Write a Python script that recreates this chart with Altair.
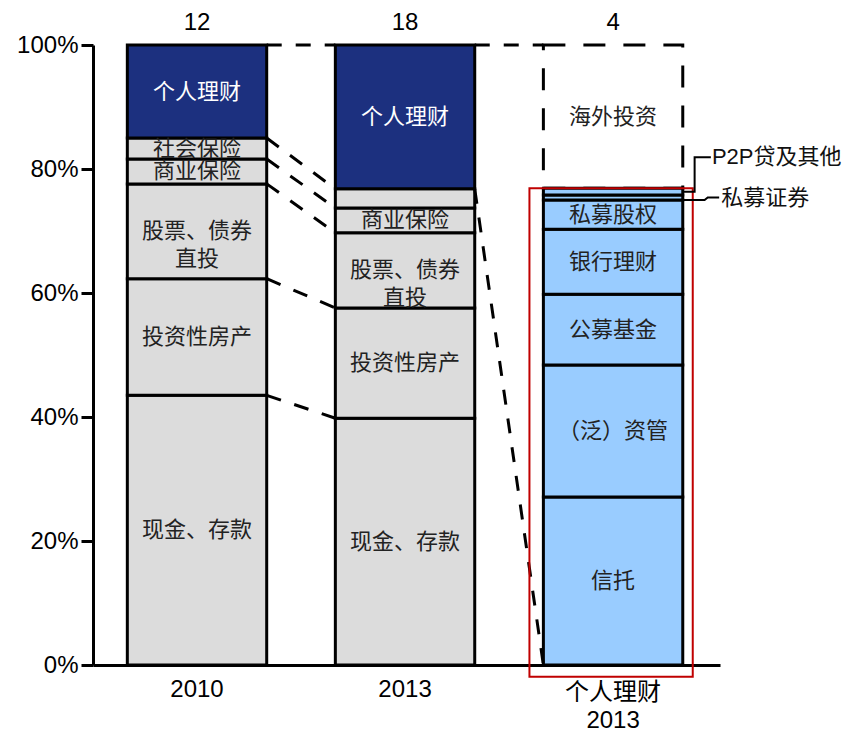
import altair as alt
import pandas as pd

# ---------------- data ----------------
bar_names = ["2010", "2013", "个人理财\n2013"]
counts = [12, 18, 4]

hh_cats = ["现金、存款", "投资性房产", "股票、债券\n直投", "商业保险", "社会保险", "个人理财"]
hh_2010 = [43.5, 18.8, 15.3, 4.0, 3.4, 15.0]
hh_2013 = [39.8, 17.8, 12.1, 4.0, 3.1, 23.2]
hh_2013_shown = [True, True, True, True, False, True]

wm_cats = ["信托", "（泛）资管", "公募基金", "银行理财", "私募股权", "私募证券", "P2P贷及其他", "海外投资"]
wm_2013 = [27.1, 21.3, 11.4, 10.5, 4.7, 0.8, 1.1, 23.1]
wm_inside = [True, True, True, True, True, False, False, True]

# ---------------- styles ----------------
NAVY = "#1C307F"
GRAY = "#DCDCDC"
LBLUE = "#99CCFF"
RED = "#C00000"
CJK = "Noto Sans CJK SC"
LAT = "Liberation Sans"
HW = 0.335  # half bar width in x units

# ---------------- build tables ----------------
seg_rows, txt_rows = [], []


def add_bar(g, cats, vals, shown, colors):
    cum = 0.0
    tops = []
    for c, v, s, col in zip(cats, vals, shown, colors):
        y0, y1 = cum, cum + v
        cum = y1
        tops.append(y1)
        seg_rows.append(dict(x=g - HW, x2=g + HW, y=y0, y2=y1, fill=col, cat=c))
        if s:
            txt_rows.append(dict(x=g, y=(y0 + y1) / 2, label=c,
                                 color="white" if col == NAVY else "#222222"))
    return tops


hh_colors = [GRAY] * 5 + [NAVY]
tops10 = add_bar(0, hh_cats, hh_2010, [True] * 6, hh_colors)
tops13 = add_bar(1, hh_cats, hh_2013, hh_2013_shown, hh_colors)

# wealth management bar (without the overseas box)
cum = 0.0
wm_tops = []
wm_mids = []
for c, v, s in zip(wm_cats, wm_2013, wm_inside):
    y0, y1 = cum, cum + v
    cum = y1
    wm_tops.append(y1)
    wm_mids.append((y0 + y1) / 2)
    if c == "海外投资":
        box = pd.DataFrame([dict(x=2 - HW, x2=2 + HW, y=y0, y2=y1)])
    else:
        seg_rows.append(dict(x=2 - HW, x2=2 + HW, y=y0, y2=y1, fill=LBLUE, cat=c))
    if s:
        txt_rows.append(dict(x=2, y=(y0 + y1) / 2, label=c, color="#222222"))

segs = pd.DataFrame(seg_rows)
txts = pd.DataFrame(txt_rows)

# dashed connectors
con_rows = []
for a, b in zip(tops10, tops13):
    con_rows.append(dict(x=HW, x2=1 - HW, y=a, y2=b))
con_rows.append(dict(x=1 + HW, x2=2 - HW, y=100, y2=100))
con_rows.append(dict(x=1 + HW, x2=2 - HW, y=tops13[4], y2=0))
cons = pd.DataFrame(con_rows)

# top counts
top_df = pd.DataFrame(dict(x=[0, 1, 2], y=[103.6] * 3, label=[str(c) for c in counts]))

# x labels below axis
xl_df = pd.DataFrame(dict(x=[0, 1, 2, 2], y=[-4.0, -4.0, -4.5, -9.0],
                          label=["2010", "2013", "个人理财", "2013"]))

# red highlight around the wealth-management bar
red_df = pd.DataFrame([dict(x=2 - HW - 0.067, x2=2 + HW + 0.048, y=-1.9, y2=wm_tops[6])])

# leader lines for small segments
p2p_mid = wm_mids[6]
pse_mid = wm_mids[5]
lead_df = pd.DataFrame([
    dict(g="p2p", o=0, x=2 + HW, y=p2p_mid),
    dict(g="p2p", o=1, x=2.392, y=p2p_mid),
    dict(g="p2p", o=2, x=2.392, y=81.9),
    dict(g="p2p", o=3, x=2.47, y=81.9),
    dict(g="pse", o=0, x=2 + HW, y=pse_mid - 0.4),
    dict(g="pse", o=1, x=2.44, y=pse_mid - 0.4),
    dict(g="pse", o=2, x=2.455, y=pse_mid),
    dict(g="pse", o=3, x=2.51, y=pse_mid),
])
lead_txt = pd.DataFrame(dict(x=[2.475, 2.52], y=[81.9, pse_mid],
                             label=[wm_cats[6], wm_cats[5]]))

# ---------------- encodings ----------------
XS = alt.Scale(domain=[-0.5, 2.514], nice=False, zero=False)
YS = alt.Scale(domain=[0, 100], nice=False, zero=False)
XAX = alt.Axis(labels=False, ticks=False, grid=False, title=None,
               domainColor="black", domainWidth=3)
YAX = alt.Axis(values=[0, 20, 40, 60, 80, 100], labelExpr="datum.value + '%'",
               labelFontSize=24, labelFont=LAT, labelColor="black",
               tickColor="black", tickWidth=3, tickSize=12, domainColor="black",
               domainWidth=3, grid=False, title=None, labelPadding=3)


def X(f="x"):
    return alt.X(f"{f}:Q", scale=XS, axis=XAX)


def Y(f="y"):
    return alt.Y(f"{f}:Q", scale=YS, axis=YAX)


box_layer = alt.Chart(box).mark_rect(
    fill="white", stroke="black", strokeWidth=3, strokeDash=[22, 18]
).encode(x=X(), x2="x2:Q", y=Y(), y2="y2:Q")

bar_layer = alt.Chart(segs).mark_rect(stroke="black", strokeWidth=3).encode(
    x=X(), x2="x2:Q", y=Y(), y2="y2:Q",
    fill=alt.Fill("fill:N", scale=None),
)

con_layer = alt.Chart(cons).mark_rule(
    color="black", strokeWidth=3, strokeDash=[15, 14]
).encode(x=X(), x2="x2:Q", y=Y(), y2="y2:Q")

txt_layer = alt.Chart(txts).mark_text(
    font=CJK, fontSize=22, lineBreak="\n", lineHeight=28,
    baseline="middle", align="center"
).encode(x=X(), y=Y(), text="label:N", color=alt.Color("color:N", scale=None))

top_layer = alt.Chart(top_df).mark_text(
    font=LAT, fontSize=24, color="black", baseline="middle"
).encode(x=X(), y=Y(), text="label:N")

xl_layer = alt.Chart(xl_df).mark_text(
    font=f"{LAT}, {CJK}", fontSize=24, color="black", baseline="middle"
).encode(x=X(), y=Y(), text="label:N")

red_layer = alt.Chart(red_df).mark_rect(
    fillOpacity=0, stroke=RED, strokeWidth=2
).encode(x=X(), x2="x2:Q", y=Y(), y2="y2:Q")

lead_layer = alt.Chart(lead_df).mark_line(color="black", strokeWidth=2).encode(
    x=X(), y=Y(), detail="g:N", order="o:Q"
)

lead_txt_layer = alt.Chart(lead_txt).mark_text(
    font=f"{LAT}, {CJK}", fontSize=22, color="#111111", align="left", baseline="middle"
).encode(x=X(), y=Y(), text="label:N")

chart = alt.layer(
    box_layer, bar_layer, con_layer, txt_layer, top_layer, xl_layer,
    red_layer, lead_layer, lead_txt_layer
).properties(
    width=627, height=620,
    autosize=alt.AutoSizeParams(type="none"),
    padding={"left": 93, "top": 45, "right": 134, "bottom": 69},
    background="white",
).configure_view(stroke=None)

chart.save("out.html", embed_options={"renderer": "svg", "actions": False})
